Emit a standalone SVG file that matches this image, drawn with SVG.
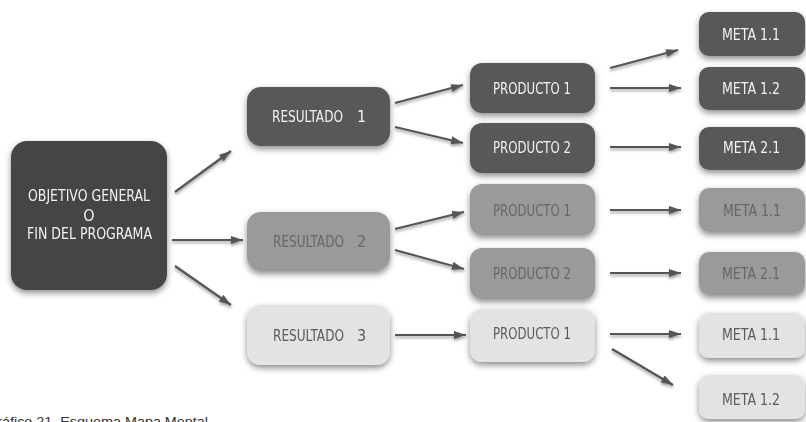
<svg xmlns="http://www.w3.org/2000/svg" width="806" height="422" viewBox="0 0 806 422">
<defs>
<style>
.main{fill:#444444}
.dark{fill:#585858}
.mid{fill:#9a9a9a}
.light{fill:#e3e3e3}
text{font-family:"Liberation Sans Narrow","DejaVu Sans Condensed","Liberation Sans",sans-serif;font-size:16px}
.tl{fill:#f2f2f2}
.tm{fill:#666666}
.td{fill:#5a5a5a}
.node{filter:url(#sh)}
.arr line{stroke:#555555;stroke-width:2.2;marker-end:url(#ah)}
.cap{font-family:"Liberation Sans",Arial,sans-serif;font-size:13.5px;fill:#333333}
</style>
<filter id="sh" x="-20%" y="-20%" width="140%" height="150%">
<feDropShadow dx="0" dy="3" stdDeviation="3" flood-color="#000000" flood-opacity="0.45"/>
</filter>
<filter id="ash" x="-20%" y="-50%" width="140%" height="200%">
<feDropShadow dx="0" dy="2" stdDeviation="1.5" flood-color="#000000" flood-opacity="0.4"/>
</filter>
<marker id="ah" markerUnits="userSpaceOnUse" markerWidth="14" markerHeight="10" refX="12" refY="4" orient="auto">
<path d="M0,0 L12,4 L0,8 z" fill="#555555"/>
</marker>
</defs>
<rect width="806" height="422" fill="#ffffff"/>

<g id="connectors" class="arr" filter="url(#ash)">
<line x1="175" y1="192" x2="231" y2="151"/>
<line x1="172" y1="240" x2="243" y2="240"/>
<line x1="175" y1="266" x2="231" y2="305"/>
<line x1="395" y1="103" x2="463" y2="85"/>
<line x1="395" y1="127" x2="463" y2="143"/>
<line x1="395" y1="229" x2="464" y2="212"/>
<line x1="395" y1="250" x2="464" y2="269"/>
<line x1="395" y1="335" x2="466" y2="335"/>
<line x1="610" y1="68" x2="678" y2="50"/>
<line x1="610" y1="88" x2="681" y2="88"/>
<line x1="610" y1="147" x2="681" y2="147"/>
<line x1="610" y1="210" x2="681" y2="210"/>
<line x1="610" y1="273" x2="681" y2="273"/>
<line x1="610" y1="334" x2="681" y2="334"/>
<line x1="612" y1="349" x2="673" y2="385"/>
</g>

<g id="objetivo" class="node">
<rect class="main" x="11" y="141" width="156" height="149" rx="16"/>
<text class="tl" x="28" y="201" textLength="122" lengthAdjust="spacingAndGlyphs">OBJETIVO GENERAL</text>
<text class="tl" x="89" y="221" text-anchor="middle">O</text>
<text class="tl" x="27" y="239" textLength="125" lengthAdjust="spacingAndGlyphs">FIN DEL PROGRAMA</text>
</g>

<g id="resultado1" class="node">
<rect class="dark" x="247" y="87" width="143" height="59" rx="14"/>
<text class="tl" y="122"><tspan x="272" textLength="71" lengthAdjust="spacingAndGlyphs">RESULTADO</tspan><tspan x="357">1</tspan></text>
</g>
<g id="resultado2" class="node">
<rect class="mid" x="247" y="212" width="143" height="59" rx="14"/>
<text class="tm" y="247"><tspan x="273" textLength="71" lengthAdjust="spacingAndGlyphs">RESULTADO</tspan><tspan x="357">2</tspan></text>
</g>
<g id="resultado3" class="node">
<rect class="light" x="247" y="305" width="143" height="60" rx="14"/>
<text class="td" y="341"><tspan x="273" textLength="71" lengthAdjust="spacingAndGlyphs">RESULTADO</tspan><tspan x="357">3</tspan></text>
</g>

<g id="producto1a" class="node">
<rect class="dark" x="470" y="63" width="125" height="50" rx="12"/>
<text class="tl" x="493" y="94" textLength="78" lengthAdjust="spacingAndGlyphs">PRODUCTO 1</text>
</g>
<g id="producto2a" class="node">
<rect class="dark" x="470" y="123" width="125" height="50" rx="12"/>
<text class="tl" x="493" y="153" textLength="78" lengthAdjust="spacingAndGlyphs">PRODUCTO 2</text>
</g>
<g id="producto1b" class="node">
<rect class="mid" x="470" y="184" width="125" height="51" rx="12"/>
<text class="tm" x="493" y="216" textLength="78" lengthAdjust="spacingAndGlyphs">PRODUCTO 1</text>
</g>
<g id="producto2b" class="node">
<rect class="mid" x="470" y="248" width="125" height="51" rx="12"/>
<text class="tm" x="493" y="279" textLength="78" lengthAdjust="spacingAndGlyphs">PRODUCTO 2</text>
</g>
<g id="producto1c" class="node">
<rect class="light" x="470" y="309" width="125" height="53" rx="12"/>
<text class="td" x="493" y="339" textLength="78" lengthAdjust="spacingAndGlyphs">PRODUCTO 1</text>
</g>

<g id="meta11a" class="node">
<rect class="dark" x="699" y="12" width="106" height="44" rx="10"/>
<text class="tl" x="722" y="40" textLength="58" lengthAdjust="spacingAndGlyphs">META 1.1</text>
</g>
<g id="meta12a" class="node">
<rect class="dark" x="699" y="67" width="106" height="43" rx="10"/>
<text class="tl" x="722" y="94" textLength="58" lengthAdjust="spacingAndGlyphs">META 1.2</text>
</g>
<g id="meta21a" class="node">
<rect class="dark" x="699" y="127" width="106" height="43" rx="10"/>
<text class="tl" x="723" y="153" textLength="57" lengthAdjust="spacingAndGlyphs">META 2.1</text>
</g>
<g id="meta11b" class="node">
<rect class="mid" x="699" y="188" width="106" height="44" rx="10"/>
<text class="tm" x="723" y="216" textLength="58" lengthAdjust="spacingAndGlyphs">META 1.1</text>
</g>
<g id="meta21b" class="node">
<rect class="mid" x="699" y="252" width="106" height="43" rx="10"/>
<text class="tm" x="722" y="279" textLength="58" lengthAdjust="spacingAndGlyphs">META 2.1</text>
</g>
<g id="meta11c" class="node">
<rect class="light" x="699" y="313" width="106" height="45" rx="10"/>
<text class="td" x="722" y="340" textLength="58" lengthAdjust="spacingAndGlyphs">META 1.1</text>
</g>
<g id="meta12c" class="node">
<rect class="light" x="699" y="375" width="106" height="44" rx="10"/>
<text class="td" x="722" y="405" textLength="58" lengthAdjust="spacingAndGlyphs">META 1.2</text>
</g>

<text class="cap" x="-14" y="426" textLength="222" lengthAdjust="spacingAndGlyphs">Gráfico 21. Esquema Mapa Mental</text>
</svg>
